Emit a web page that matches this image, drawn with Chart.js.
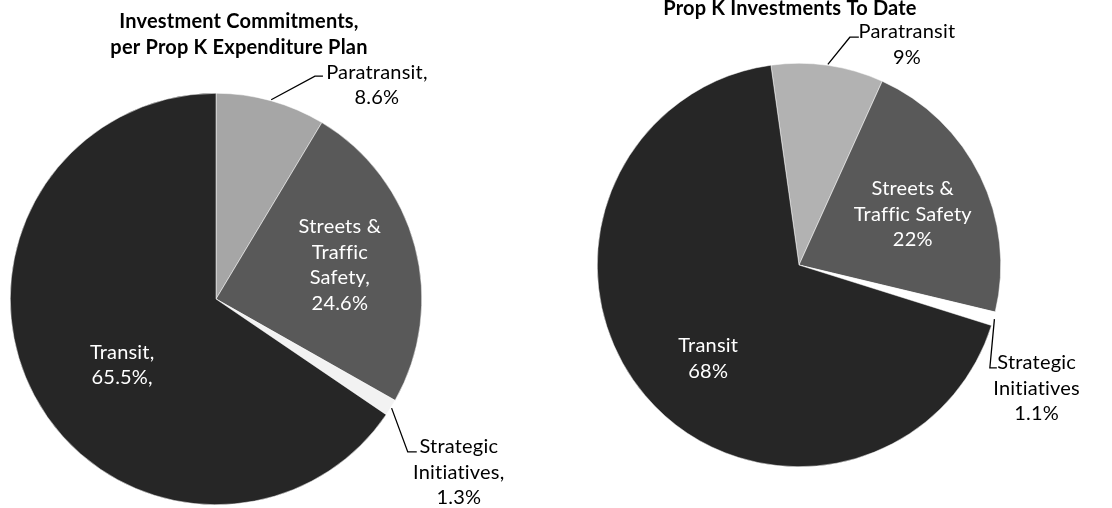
<!DOCTYPE html>
<html>
<head>
<meta charset="utf-8">
<script src="https://cdn.jsdelivr.net/npm/chart.js@4"></script>
<style>
  html, body { margin: 0; padding: 0; background: #fff; }
  #wrap { position: relative; width: 1112px; height: 508px; overflow: hidden; }
  canvas { position: absolute; top: 0; }
  #planChart { left: 0; }
  #toDateChart { left: 556px; }
</style>
</head>
<body>
<div id="wrap">
  <canvas id="planChart" width="556" height="508"></canvas>
  <canvas id="toDateChart" width="556" height="508"></canvas>
</div>
<script>
// Prop K program shares (percent)
const categories = ['Paratransit', 'Streets & Traffic Safety', 'Strategic Initiatives', 'Transit'];
const planShares = [8.6, 24.6, 1.3, 65.5];
const toDateShares = [9, 22, 1.1, 68];

// label wording as shown on each pie
const planNames = [['Paratransit,'], ['Streets &', 'Traffic', 'Safety,'], ['Strategic', 'Initiatives,'], ['Transit,']];
const toDateNames = [['Paratransit'], ['Streets &', 'Traffic Safety'], ['Strategic', 'Initiatives'], ['Transit']];

const planTitle = ['Investment Commitments,', 'per Prop K Expenditure Plan'];
const toDateTitle = ['Prop K Investments To Date'];

const FONT = 'Lato, "Open Sans", sans-serif';

// text placement, relative to pie centre in units of radius
const planPlacement = [
  { x: 0.782, y: -1.039, color: '#000', leader: { x: 0.481, y: -1.083, run: 8 } },
  { x: 0.602, y: -0.165, color: '#fff' },
  { x: 1.180, y: 0.842, color: '#000', leader: { x: 0.932, y: 0.743, run: 9 } },
  { x: -0.456, y: 0.320, color: '#fff' },
];
const toDatePlacement = [
  { x: 0.535, y: -1.092, color: '#000', leader: { x: 0.252, y: -1.129, run: 9 } },
  { x: 0.564, y: -0.251, color: '#fff' },
  { x: 1.178, y: 0.612, color: '#000', leader: { x: 0.946, y: 0.510, run: 7 } },
  { x: -0.450, y: 0.463, color: '#fff' },
];

const pieLabels = {
  id: 'pieLabels',
  afterDatasetsDraw(chart, args, opts) {
    const ctx = chart.ctx;
    const arcs = chart.getDatasetMeta(0).data;
    ctx.save();
    ctx.textAlign = 'center';
    ctx.textBaseline = 'middle';
    ctx.letterSpacing = '0.2px'; // keeps "ti" from becoming a ligature

    // title
    ctx.font = 'bold 20px ' + FONT;
    ctx.fillStyle = '#000';
    opts.title.forEach((t, i) => ctx.fillText(t, opts.titleX, opts.titleY + i * 26));

    ctx.font = '20px ' + FONT;
    arcs.forEach((arc, i) => {
      const p = opts.placement[i];
      const cx = arc.x, cy = arc.y, r = arc.outerRadius;
      const lines = opts.names[i].concat([opts.format(opts.values[i], i)]);

      if (p.leader) {
        const mid = (arc.startAngle + arc.endAngle) / 2;
        const sx = cx + Math.cos(mid) * (r + 1);
        const sy = cy + Math.sin(mid) * (r + 1);
        const ex = cx + p.leader.x * r;
        const ey = cy + p.leader.y * r;
        ctx.strokeStyle = '#000';
        ctx.lineWidth = 1.3;
        ctx.beginPath();
        ctx.moveTo(sx, sy);
        ctx.lineTo(ex, ey);
        ctx.lineTo(ex + p.leader.run, ey);
        ctx.stroke();
      }

      const lh = 25.5;
      const tx = cx + p.x * r;
      const ty = cy + p.y * r - (lines.length - 1) * lh / 2;
      ctx.fillStyle = p.color;
      lines.forEach((l, k) => ctx.fillText(l, tx, ty + k * lh));
    });
    ctx.restore();
  }
};

function makePie(id, values, colors, rotation, padding, labelOpts) {
  return new Chart(document.getElementById(id), {
    type: 'pie',
    data: {
      labels: categories,
      datasets: [{
        data: values,
        backgroundColor: colors,
        borderColor: '#fff',
        borderWidth: 0.5,
      }],
    },
    options: {
      responsive: false,
      animation: false,
      devicePixelRatio: 1,
      rotation: rotation,
      layout: { padding: padding },
      plugins: {
        legend: { display: false },
        tooltip: { enabled: false },
        pieLabels: labelOpts,
      },
    },
    plugins: [pieLabels],
  });
}

makePie('planChart', planShares,
  ['#a6a6a6', '#595959', '#f2f2f2', '#262626'], 0,
  { left: 10, top: 93, right: 134, bottom: 3 },
  {
    title: planTitle, titleX: 239, titleY: 22,
    names: planNames, values: planShares, placement: planPlacement,
    format: (v, i) => v.toFixed(1) + '%' + (i === 3 ? ',' : ''),
  });

makePie('toDateChart', toDateShares,
  ['#b2b2b2', '#595959', '#ffffff', '#262626'], -8,
  { left: 41, top: 63, right: 111, bottom: 41 },
  {
    title: toDateTitle, titleX: 234, titleY: 9,
    names: toDateNames, values: toDateShares, placement: toDatePlacement,
    format: (v) => v + '%',
  });
</script>
</body>
</html>
